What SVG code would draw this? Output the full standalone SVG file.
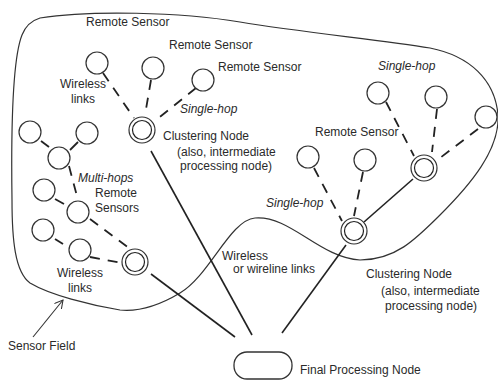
<svg xmlns="http://www.w3.org/2000/svg" width="498" height="381" viewBox="0 0 498 381">
<defs>
<style>
.t{font-family:"Liberation Sans",Arial,sans-serif;font-size:12px;fill:#2a2a2a}
.i{font-style:italic}
.s{fill:#fff;stroke:#333;stroke-width:1.2}
.c{fill:none;stroke:#222;stroke-width:1.2}
.d{stroke:#222;stroke-width:1.8;stroke-dasharray:10 8;fill:none}
.l{stroke:#222;stroke-width:1.6;fill:none}
.sh{stroke:#222;stroke-width:1.8;fill:none}
</style>
<marker id="ah" viewBox="0 0 10 10" refX="9" refY="5" markerWidth="9" markerHeight="9" orient="auto" markerUnits="userSpaceOnUse">
<path d="M0,0 L9,5 L0,10" fill="none" stroke="#333" stroke-width="1.2"/>
</marker>
</defs>
<rect width="498" height="381" fill="#fff"/>
<g id="sensor-field">
<path d="M12,200 C11,130 12,60 22,35 Q27,22 40,18 C90,10 180,12 240,22 C300,32 380,40 430,48 C470,56 495,80 498,115 C500,150 470,185 440,215 C415,240 395,260 360,260 C320,258 290,215 255,218 C230,220 210,275 180,293 C160,305 140,312 120,310 C90,305 50,295 30,283 C15,272 12,240 12,200 Z" fill="none" stroke="#333" stroke-width="1.2"/>
</g>
<g id="connectors">
<line class="d" x1="103" y1="73" x2="134" y2="118"/>
<line class="d" x1="151" y1="80" x2="145" y2="115"/>
<line class="d" x1="196" y1="88" x2="156" y2="120"/>
<line class="sh" x1="41" y1="141" x2="49" y2="147"/>
<line class="sh" x1="70" y1="150" x2="78" y2="142"/>
<line class="d" x1="69" y1="166" x2="78" y2="200"/>
<line class="sh" x1="55" y1="199" x2="64" y2="204"/>
<line class="sh" x1="55" y1="239" x2="63" y2="244"/>
<line class="d" x1="90" y1="219" x2="129" y2="248"/>
<line class="d" x1="90" y1="257" x2="122" y2="263"/>
<line class="d" x1="386" y1="102" x2="414" y2="156"/>
<line class="d" x1="437" y1="109" x2="432" y2="152"/>
<line class="d" x1="478" y1="129" x2="440" y2="158"/>
<line class="d" x1="314" y1="168" x2="342" y2="221"/>
<line class="d" x1="363" y1="172" x2="354" y2="216"/>
<line class="l" x1="151" y1="151" x2="252" y2="335"/>
<line class="l" x1="151" y1="274" x2="235" y2="337"/>
<line class="l" x1="346" y1="245" x2="282" y2="333"/>
<line class="l" x1="413" y1="179" x2="364" y2="222"/>
<line x1="33" y1="337" x2="63" y2="300" stroke="#333" stroke-width="1.1" marker-end="url(#ah)"/>
</g>
<g id="sensors-cluster1">
<circle class="s" cx="97" cy="63" r="11"/>
<circle class="s" cx="153" cy="68" r="11"/>
<circle class="s" cx="203" cy="80" r="11"/>
</g>
<g id="sensors-left">
<circle class="s" cx="30" cy="132" r="11"/>
<circle class="s" cx="87" cy="133" r="11"/>
<circle class="s" cx="59" cy="158" r="11"/>
<circle class="s" cx="44" cy="190" r="11"/>
<circle class="s" cx="78" cy="212" r="11"/>
<circle class="s" cx="43" cy="230" r="11"/>
<circle class="s" cx="80" cy="250" r="11"/>
</g>
<g id="sensors-right">
<circle class="s" cx="378" cy="93" r="11"/>
<circle class="s" cx="436" cy="97" r="11"/>
<circle class="s" cx="486" cy="117" r="11"/>
<circle class="s" cx="308" cy="157" r="11"/>
<circle class="s" cx="365" cy="160" r="11"/>
</g>
<g id="cluster1"><circle class="s" cx="142" cy="130" r="13"/><circle class="c" cx="142" cy="130" r="9.5"/></g>
<g id="cluster2"><circle class="s" cx="135" cy="262" r="13"/><circle class="c" cx="135" cy="262" r="9.5"/></g>
<g id="cluster3"><circle class="s" cx="424" cy="168" r="13"/><circle class="c" cx="424" cy="168" r="9.5"/></g>
<g id="cluster4"><circle class="s" cx="354" cy="231" r="13"/><circle class="c" cx="354" cy="231" r="9.5"/></g>
<g id="final-node"><rect x="234" y="352" width="58" height="27" rx="13" ry="13" fill="#fff" stroke="#333" stroke-width="1.3"/></g>
<g id="labels">
<text class="t" x="86" y="26">Remote Sensor</text>
<text class="t" x="169" y="49">Remote Sensor</text>
<text class="t" x="218" y="71">Remote Sensor</text>
<text class="t" x="83" y="88" text-anchor="middle">Wireless</text>
<text class="t" x="83" y="103" text-anchor="middle">links</text>
<text class="t i" x="180" y="113">Single-hop</text>
<text class="t" x="163" y="140">Clustering Node</text>
<text class="t" x="177" y="156">(also, intermediate</text>
<text class="t" x="180" y="170">processing node)</text>
<text class="t i" x="78" y="182">Multi-hops</text>
<text class="t" x="95" y="197">Remote</text>
<text class="t" x="95" y="212">Sensors</text>
<text class="t" x="80" y="277" text-anchor="middle">Wireless</text>
<text class="t" x="80" y="292" text-anchor="middle">links</text>
<text class="t" x="8" y="350">Sensor Field</text>
<text class="t i" x="378" y="70">Single-hop</text>
<text class="t" x="315" y="136">Remote Sensor</text>
<text class="t i" x="266" y="207">Single-hop</text>
<text class="t" x="222" y="260">Wireless</text>
<text class="t" x="233" y="273">or wireline links</text>
<text class="t" x="366" y="278">Clustering Node</text>
<text class="t" x="381" y="295">(also, intermediate</text>
<text class="t" x="385" y="310">processing node)</text>
<text class="t" x="300" y="374">Final Processing Node</text>
</g>
</svg>
